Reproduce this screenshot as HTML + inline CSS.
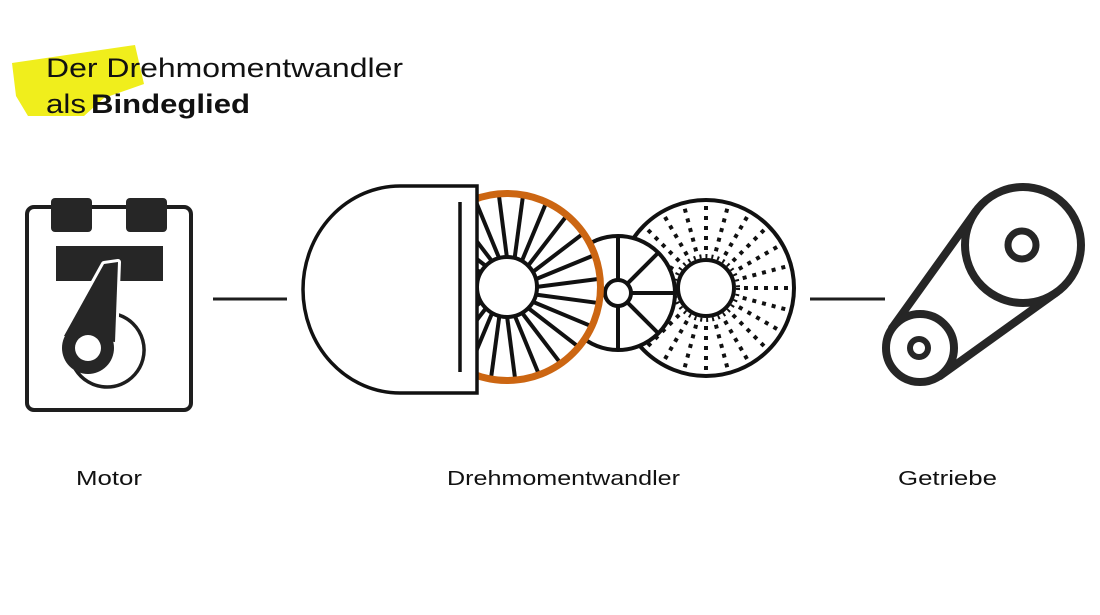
<!DOCTYPE html>
<html><head><meta charset="utf-8"><style>
html,body{margin:0;padding:0;background:#fff;}
svg{display:block;}
text{font-family:"Liberation Sans",sans-serif;fill:#111;}
</style></head><body>
<svg width="1100" height="615" viewBox="0 0 1100 615" xmlns="http://www.w3.org/2000/svg">
<polygon points="12,63 135,45 144,84 104,98 84,116 28,116 16,96" fill="#f0ee1c"/>
<text x="46" y="77" font-size="27" textLength="357" lengthAdjust="spacingAndGlyphs">Der Drehmomentwandler</text>
<text x="46" y="113" font-size="27" textLength="40" lengthAdjust="spacingAndGlyphs">als</text>
<text x="91" y="113" font-size="27" font-weight="bold" textLength="159" lengthAdjust="spacingAndGlyphs">Bindeglied</text>

<!-- Motor -->
<rect x="27" y="207" width="164" height="203" rx="7" fill="none" stroke="#1e1e1e" stroke-width="4"/>
<rect x="51" y="198" width="41" height="34" rx="4" fill="#262626"/>
<rect x="126" y="198" width="41" height="34" rx="4" fill="#262626"/>
<rect x="56" y="246" width="107" height="35" fill="#262626"/>
<path d="M118.4,314.8 A37,37 0 1 1 73.5,365.6" fill="none" stroke="#1e1e1e" stroke-width="3.5"/>
<polygon points="104,264 118,262 115,342 64,336" fill="#262626" stroke="#fff" stroke-width="6" stroke-linejoin="round"/>
<circle cx="88" cy="348" r="26" fill="#262626"/>
<polygon points="104,264 118,262 115,342 64,336" fill="#262626"/>
<circle cx="88" cy="348" r="13" fill="#fff"/>

<line x1="213" y1="299" x2="287" y2="299" stroke="#1e1e1e" stroke-width="3"/>
<line x1="810" y1="299" x2="885" y2="299" stroke="#1e1e1e" stroke-width="3"/>

<!-- dotted wheel -->
<circle cx="706" cy="288" r="88" fill="#fff" stroke="#111" stroke-width="4"/>
<g stroke="#111" stroke-width="4" stroke-dasharray="4 6">
<line x1="744" y1="288" x2="792" y2="288"/>
<line x1="744" y1="288" x2="792" y2="288" transform="rotate(15 706 288)"/>
<line x1="744" y1="288" x2="792" y2="288" transform="rotate(30 706 288)"/>
<line x1="744" y1="288" x2="792" y2="288" transform="rotate(45 706 288)"/>
<line x1="744" y1="288" x2="792" y2="288" transform="rotate(60 706 288)"/>
<line x1="744" y1="288" x2="792" y2="288" transform="rotate(75 706 288)"/>
<line x1="744" y1="288" x2="792" y2="288" transform="rotate(90 706 288)"/>
<line x1="744" y1="288" x2="792" y2="288" transform="rotate(105 706 288)"/>
<line x1="744" y1="288" x2="792" y2="288" transform="rotate(120 706 288)"/>
<line x1="744" y1="288" x2="792" y2="288" transform="rotate(135 706 288)"/>
<line x1="744" y1="288" x2="792" y2="288" transform="rotate(150 706 288)"/>
<line x1="744" y1="288" x2="792" y2="288" transform="rotate(165 706 288)"/>
<line x1="744" y1="288" x2="792" y2="288" transform="rotate(180 706 288)"/>
<line x1="744" y1="288" x2="792" y2="288" transform="rotate(195 706 288)"/>
<line x1="744" y1="288" x2="792" y2="288" transform="rotate(210 706 288)"/>
<line x1="744" y1="288" x2="792" y2="288" transform="rotate(225 706 288)"/>
<line x1="744" y1="288" x2="792" y2="288" transform="rotate(240 706 288)"/>
<line x1="744" y1="288" x2="792" y2="288" transform="rotate(255 706 288)"/>
<line x1="744" y1="288" x2="792" y2="288" transform="rotate(270 706 288)"/>
<line x1="744" y1="288" x2="792" y2="288" transform="rotate(285 706 288)"/>
<line x1="744" y1="288" x2="792" y2="288" transform="rotate(300 706 288)"/>
<line x1="744" y1="288" x2="792" y2="288" transform="rotate(315 706 288)"/>
<line x1="744" y1="288" x2="792" y2="288" transform="rotate(330 706 288)"/>
<line x1="744" y1="288" x2="792" y2="288" transform="rotate(345 706 288)"/>
</g>
<circle cx="706" cy="288" r="32" fill="none" stroke="#111" stroke-width="4" stroke-dasharray="2 4"/>
<circle cx="706" cy="288" r="28" fill="#fff" stroke="#111" stroke-width="4"/>

<!-- middle wheel -->
<circle cx="618" cy="293" r="57" fill="#fff" stroke="#111" stroke-width="4"/>
<g stroke="#111" stroke-width="4">
<line x1="618" y1="236" x2="618" y2="350"/>
<line x1="618" y1="293" x2="675" y2="293"/>
<line x1="618" y1="293" x2="658" y2="253"/>
<line x1="618" y1="293" x2="658" y2="333"/>
</g>
<circle cx="618" cy="293" r="13" fill="#fff" stroke="#111" stroke-width="4"/>

<!-- orange turbine -->
<circle cx="507" cy="287" r="93" fill="#fff"/>
<g stroke="#111" stroke-width="4">
<line x1="536" y1="287" x2="598" y2="279"/>
<line x1="536" y1="287" x2="598" y2="279" transform="rotate(15 507 287)"/>
<line x1="536" y1="287" x2="598" y2="279" transform="rotate(30 507 287)"/>
<line x1="536" y1="287" x2="598" y2="279" transform="rotate(45 507 287)"/>
<line x1="536" y1="287" x2="598" y2="279" transform="rotate(60 507 287)"/>
<line x1="536" y1="287" x2="598" y2="279" transform="rotate(75 507 287)"/>
<line x1="536" y1="287" x2="598" y2="279" transform="rotate(90 507 287)"/>
<line x1="536" y1="287" x2="598" y2="279" transform="rotate(105 507 287)"/>
<line x1="536" y1="287" x2="598" y2="279" transform="rotate(120 507 287)"/>
<line x1="536" y1="287" x2="598" y2="279" transform="rotate(135 507 287)"/>
<line x1="536" y1="287" x2="598" y2="279" transform="rotate(150 507 287)"/>
<line x1="536" y1="287" x2="598" y2="279" transform="rotate(165 507 287)"/>
<line x1="536" y1="287" x2="598" y2="279" transform="rotate(180 507 287)"/>
<line x1="536" y1="287" x2="598" y2="279" transform="rotate(195 507 287)"/>
<line x1="536" y1="287" x2="598" y2="279" transform="rotate(210 507 287)"/>
<line x1="536" y1="287" x2="598" y2="279" transform="rotate(225 507 287)"/>
<line x1="536" y1="287" x2="598" y2="279" transform="rotate(240 507 287)"/>
<line x1="536" y1="287" x2="598" y2="279" transform="rotate(255 507 287)"/>
<line x1="536" y1="287" x2="598" y2="279" transform="rotate(270 507 287)"/>
<line x1="536" y1="287" x2="598" y2="279" transform="rotate(285 507 287)"/>
<line x1="536" y1="287" x2="598" y2="279" transform="rotate(300 507 287)"/>
<line x1="536" y1="287" x2="598" y2="279" transform="rotate(315 507 287)"/>
<line x1="536" y1="287" x2="598" y2="279" transform="rotate(330 507 287)"/>
<line x1="536" y1="287" x2="598" y2="279" transform="rotate(345 507 287)"/>
</g>
<circle cx="507" cy="287" r="93.5" fill="none" stroke="#cc6612" stroke-width="7"/>
<circle cx="507" cy="287" r="30" fill="#fff" stroke="#111" stroke-width="4"/>

<path d="M477,186 H400 A97,103.5 0 0 0 400,393 H477 Z" fill="#fff" stroke="#111" stroke-width="3.5"/>
<line x1="460" y1="202" x2="460" y2="372" stroke="#111" stroke-width="3.5"/>

<!-- Getriebe -->
<g fill="none" stroke="#262626" stroke-width="8" stroke-linecap="round">
<line x1="976" y1="211" x2="892" y2="328"/>
<line x1="1057" y1="292" x2="940" y2="376"/>
<circle cx="1023" cy="245" r="58"/>
<circle cx="920" cy="348" r="34"/>
<circle cx="1022" cy="245" r="14" stroke-width="7"/>
<circle cx="919" cy="348" r="9" stroke-width="6"/>
</g>

<text x="76" y="485" font-size="20" textLength="66" lengthAdjust="spacingAndGlyphs">Motor</text>
<text x="447" y="485" font-size="20" textLength="233" lengthAdjust="spacingAndGlyphs">Drehmomentwandler</text>
<text x="898" y="485" font-size="20" textLength="99" lengthAdjust="spacingAndGlyphs">Getriebe</text>
</svg>
</body></html>
